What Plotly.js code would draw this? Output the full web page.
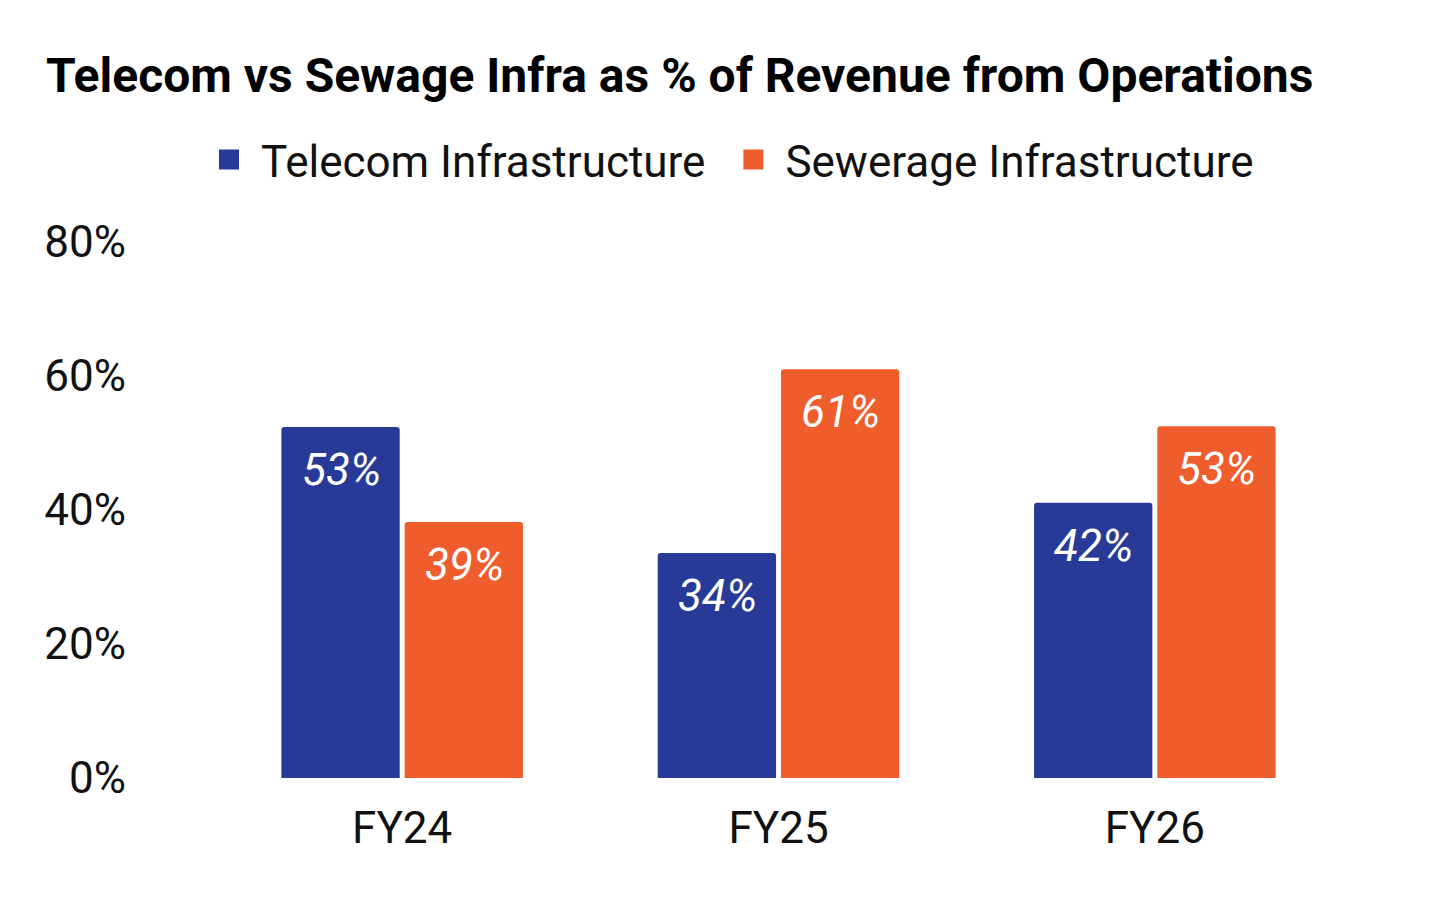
<!DOCTYPE html>
<html>
<head>
<meta charset="utf-8">
<script src="https://cdn.plot.ly/plotly-3.0.1.min.js"></script>
<style>
  body { margin: 0; background: #ffffff; }
  #chart { width: 1456px; height: 900px; }
</style>
</head>
<body>
<div id="chart"></div>
<script>
var years = ["FY24", "FY25", "FY26"];
// bar heights
var telecom = [52.4, 33.6, 41.1];
var sewerage = [38.2, 61.0, 52.5];
// labels printed on the bars
var telecomLabels = [53, 34, 42];
var sewerageLabels = [39, 61, 53];
var yTicks = [0, 20, 40, 60, 80];

var blue = "#283a97";
var orange = "#f05d2c";

function barTrace(name, values, color) {
  return {
    x: years,
    y: values,
    type: "bar",
    name: name,
    showlegend: false,
    marker: { color: color },
    hoverinfo: "skip"
  };
}

// dummy traces only for the bigger square legend keys
function legendKey(name, color) {
  return {
    x: [null],
    y: [null],
    type: "scatter",
    mode: "markers",
    name: name,
    marker: { symbol: "square", size: 28, color: color, line: { color: color, width: 4 } }
  };
}

var data = [
  barTrace("Telecom Infrastructure", telecom, blue),
  barTrace("Sewerage Infrastructure", sewerage, orange),
  legendKey("Telecom Infrastructure\u00a0", blue),
  legendKey("Sewerage Infrastructure", orange)
];

// value labels inside the bars, just under the top edge
var annotations = [];
[[telecom, telecomLabels], [sewerage, sewerageLabels]].forEach(function (pair, i) {
  pair[0].forEach(function (v, j) {
    annotations.push({
      x: years[j],
      y: v,
      xref: "x",
      yref: "y",
      text: pair[1][j] + "%",
      showarrow: false,
      xshift: i === 0 ? -61 : 62,
      yanchor: "top",
      yshift: -15,
      font: { family: "Roboto", size: 44, color: "#ffffff", style: "italic" }
    });
  });
});

var layout = {
  width: 1456,
  height: 900,
  paper_bgcolor: "#ffffff",
  plot_bgcolor: "#ffffff",
  font: { family: "Roboto", color: "#111111", size: 44 },
  title: {
    text: "<b>Telecom vs Sewage Infra as % of Revenue from Operations</b>",
    font: { family: "Roboto", size: 48, color: "#000000" },
    xref: "container",
    yref: "container",
    x: 46 / 1456,
    xanchor: "left",
    y: 1 - 92 / 900,
    yanchor: "bottom"
  },
  margin: { l: 214, r: 113, t: 242, b: 122 },
  barmode: "group",
  bargap: 0.345,
  bargroupgap: 0.04,
  barcornerradius: 3,
  showlegend: true,
  legend: {
    orientation: "h",
    x: 0.5,
    xanchor: "center",
    xref: "container",
    y: 1 - 160 / 900,
    yref: "container",
    yanchor: "middle",
    itemwidth: 54,
    font: { family: "Roboto", size: 44, color: "#111111" },
    itemclick: false
  },
  xaxis: {
    type: "category",
    showgrid: false,
    zeroline: false,
    showline: false,
    ticks: "",
    ticklabelstandoff: 20,
    tickfont: { family: "Roboto", size: 44, color: "#111111" }
  },
  yaxis: {
    range: [0, 80],
    tickvals: yTicks,
    ticktext: yTicks.map(function (t) { return t + "%"; }),
    showgrid: false,
    zeroline: false,
    showline: false,
    ticks: "",
    ticklabelstandoff: 87,
    tickfont: { family: "Roboto", size: 44, color: "#111111" }
  },
  annotations: annotations
};

Plotly.newPlot("chart", data, layout, { displayModeBar: false, staticPlot: true });
</script>
</body>
</html>
